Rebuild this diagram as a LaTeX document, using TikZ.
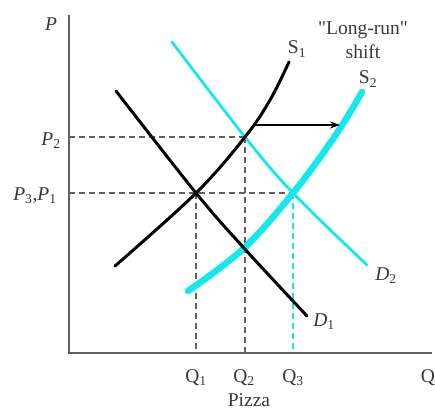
\documentclass[tikz,border=0pt]{standalone}
\usepackage{fontspec}
\setmainfont{Liberation Serif}
\newfontfamily\plainq{Liberation Serif}[Ligatures=TeXOff]
\usetikzlibrary{arrows.meta}
\definecolor{cy}{RGB}{20,232,238}
\definecolor{ax}{RGB}{95,95,95}
\definecolor{lbl}{RGB}{55,55,55}
\tikzset{
  axisline/.style={ax, line width=1.6pt},
  guide/.style={ax, line width=1.2pt, dash pattern=on 6pt off 4pt},
  guidecy/.style={cy, line width=1.2pt, dash pattern=on 6pt off 4pt},
  blackcurve/.style={black, line width=3pt, line cap=round},
  cycurve/.style={cy, line width=2.8pt, line cap=round},
  cythick/.style={cy, line width=6.5pt, line cap=round},
  lab/.style={text=lbl, inner sep=0pt, font=\fontsize{19.5}{22}\selectfont},
}
\begin{document}
\begin{tikzpicture}[x=1pt,y=-1pt]
\useasboundingbox (0,0) rectangle (435,410);
% key coordinates
\coordinate (O) at (69,353);
\coordinate (Ptop) at (69,15);
\coordinate (Qend) at (432,353);
\coordinate (E1) at (196,193);
\coordinate (E2) at (245,137);
\coordinate (E3) at (293,193);
\coordinate (P2a) at (69,137);
\coordinate (P1a) at (69,193);
\coordinate (Q1a) at (196,353);
\coordinate (Q2a) at (245,353);
\coordinate (Q3a) at (293,353);
\coordinate (ArS) at (254,125);
\coordinate (ArE) at (340,125);
% guides
\draw[guide] (P2a) -- (E2);
\draw[guide] (P1a) -- (E3);
\draw[guide] (E1) -- (Q1a);
\draw[guide] (E2) -- (Q2a);
\draw[guidecy] (E3) -- (Q3a);
% axes
\draw[axisline] (Ptop) -- (O) -- (Qend);
% curves
\draw[cycurve] plot[smooth, tension=0.6] coordinates {(172,42) (245,137) (293,193) (367,265)};
\draw[cythick] plot[smooth, tension=0.6] coordinates {(188,291) (243,249) (293,193) (335,136) (362,92)};
\draw[blackcurve] plot[smooth, tension=0.6] coordinates {(116,91) (196,193) (243,247) (307,316)};
\draw[blackcurve] plot[smooth, tension=0.6] coordinates {(115,266) (196,193) (245,137) (270,100) (289,62)};
% shift arrow
\draw[black, line width=1.2pt, -{Stealth[length=10pt,width=7pt]}] (ArS) -- (ArE);
% labels
\node[lab] (lP) at (51,24) {\textit{P}};
\node[lab] (lP2) at (51,141) {\textit{P}\textsubscript{2}};
\node[lab] (lP31) at (35,196) {\textit{P}\textsubscript{3},\textit{P}\textsubscript{1}};
\node[lab] (lQ1) at (196,378) {Q\textsubscript{1}};
\node[lab] (lQ2) at (244,378) {Q\textsubscript{2}};
\node[lab] (lQ3) at (293,378) {Q\textsubscript{3}};
\node[lab] (lQ) at (428,378) {Q};
\node[lab] (lpizza) at (249,400) {Pizza};
\node[lab] (lS1) at (297,49) {S\textsubscript{1}};
\node[lab] (lS2) at (368,79) {S\textsubscript{2}};
\node[lab] (lD1) at (324,322) {\textit{D}\textsubscript{1}};
\node[lab] (lD2) at (386,276) {\textit{D}\textsubscript{2}};
\node[lab] (lLR) at (363,30) {{\plainq"}Long-run{\plainq"}};
\node[lab] (lshift) at (363,52) {shift};
\end{tikzpicture}
\end{document}
